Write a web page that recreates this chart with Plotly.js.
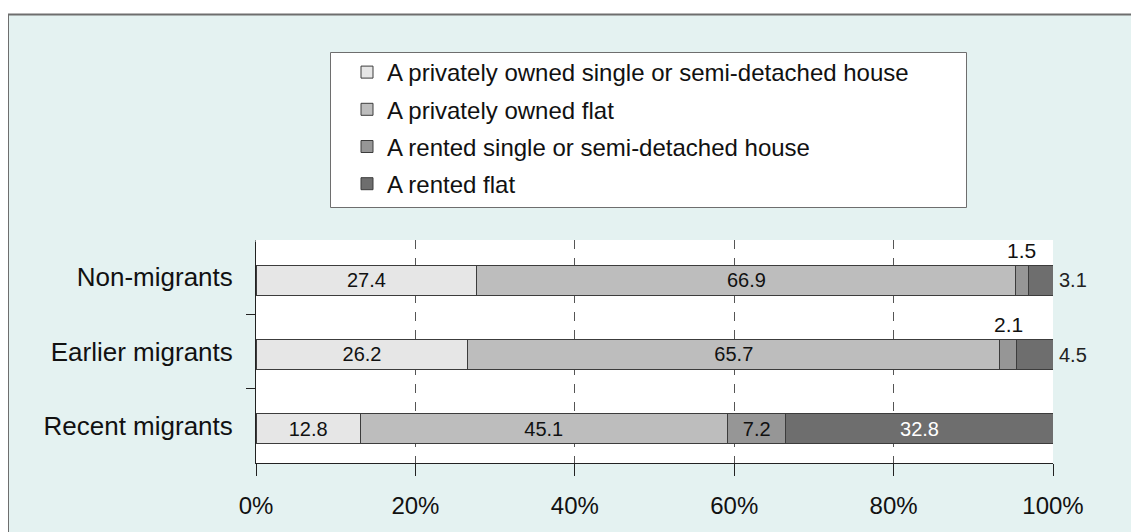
<!DOCTYPE html>
<html>
<head>
<meta charset="utf-8">
<script src="https://cdn.plot.ly/plotly-3.0.1.min.js"></script>
<style>html,body{margin:0;padding:0;background:#fff;}#chart{width:1131px;height:532px;}</style>
</head>
<body>
<div id="chart"></div>
<script>
// ---- data ----
const categories = ["Non-migrants", "Earlier migrants", "Recent migrants"];
const seriesNames = [
  "A privately owned single or semi-detached house",
  "A privately owned flat",
  "A rented single or semi-detached house",
  "A rented flat"
];
const ownedHouse = [27.4, 26.2, 12.8];
const ownedFlat = [66.9, 65.7, 45.1];
const rentedHouse = [1.5, 2.1, 7.2];
const rentedFlat = [3.1, 4.5, 32.8];
const xTickVals = [0, 20, 40, 60, 80, 100];
const xTickText = ["0%", "20%", "40%", "60%", "80%", "100%"];

// ---- style ----
const colors = ["#e6e6e6", "#bdbdbd", "#969696", "#6e6e6e"];
const textColors = ["#111", "#111", "#111", "#fff"];
const W = 1131, H = 532;
const M = {l: 256, r: 78, t: 240, b: 69};
const PW = W - M.l - M.r, PH = H - M.t - M.b;
const px = v => (v - M.l) / PW;          // pixel x -> paper
const py = v => (H - M.b - v) / PH;      // pixel y -> paper
const FONT = "Liberation Sans, Arial, sans-serif";

const seriesVals = [ownedHouse, ownedFlat, rentedHouse, rentedFlat];
const SMALL = 5; // labels of small segments are placed outside

const traces = seriesVals.map((vals, i) => ({
  type: "bar",
  orientation: "h",
  name: seriesNames[i],
  legendgroup: "g" + i,
  y: categories,
  x: vals,
  width: 0.4,
  offset: -0.16,
  text: vals.map(v => v < SMALL ? "" : v.toFixed(1)),
  textposition: "inside",
  insidetextanchor: "middle",
  textfont: {family: FONT, size: 20, color: textColors[i]},
  marker: {color: colors[i], line: {color: "#3c3c3c", width: 1}},
  hoverinfo: "skip"
}));

// annotations for small segments
const annotations = [];
categories.forEach((c, j) => {
  const tot = seriesVals.reduce((s, a) => s + a[j], 0);
  if (rentedHouse[j] < SMALL) {
    const start = (ownedHouse[j] + ownedFlat[j]) / tot * 100;
    const mid = start + rentedHouse[j] / tot * 50;
    annotations.push({x: mid, y: c, xref: "x", yref: "y", text: rentedHouse[j].toFixed(1),
      showarrow: false, xanchor: "center", yanchor: "middle", yshift: 27,
      font: {family: FONT, size: 21, color: "#111"}});
  }
  if (rentedFlat[j] < SMALL) {
    annotations.push({x: 100, y: c, xref: "x", yref: "y", text: rentedFlat[j].toFixed(1),
      showarrow: false, xanchor: "left", yanchor: "middle", xshift: 4, yshift: -3,
      font: {family: FONT, size: 20, color: "#222"}});
  }
});

const shapes = [
  {type: "rect", xref: "paper", yref: "paper", x0: px(-5), x1: px(W + 5), y0: py(14), y1: py(-5),
   fillcolor: "#ffffff", line: {width: 0}, layer: "below"},
  {type: "rect", xref: "paper", yref: "paper", x0: px(-5), x1: px(8), y0: py(H + 5), y1: py(-5),
   fillcolor: "#ffffff", line: {width: 0}, layer: "below"},
  {type: "line", xref: "paper", yref: "paper", x0: px(8), x1: px(W + 5), y0: py(14.5), y1: py(14.5),
   line: {color: "#6e6e6e", width: 2}, layer: "below"},
  {type: "line", xref: "paper", yref: "paper", x0: px(8.5), x1: px(8.5), y0: py(14.5), y1: py(H + 5),
   line: {color: "#6e6e6e", width: 1}, layer: "below"},
  {type: "rect", xref: "paper", yref: "paper", x0: px(330.5), x1: px(966.5), y0: py(207.5), y1: py(52.5),
   fillcolor: "#ffffff", line: {color: "#6e6e6e", width: 1}, layer: "below"},
  // hide the boundary tick at the top of the category axis
  {type: "rect", xref: "paper", yref: "paper", x0: px(244), x1: px(255.5), y0: py(242), y1: py(237),
   fillcolor: "#e4f2f1", line: {width: 0}, layer: "above"}
];

const layout = {
  width: W, height: H,
  margin: M,
  paper_bgcolor: "#e4f2f1",
  plot_bgcolor: "#ffffff",
  barmode: "stack",
  barnorm: "percent",
  showlegend: true,
  legend: {
    x: px(347), y: py(50), xanchor: "left", yanchor: "top",
    xref: "paper", yref: "paper",
    traceorder: "grouped", tracegroupgap: 3,
    bgcolor: "rgba(0,0,0,0)", borderwidth: 0,
    font: {family: FONT, size: 24, color: "#111"}
  },
  xaxis: {
    range: [0, 100], tickvals: xTickVals, ticktext: xTickText,
    showgrid: true, griddash: "dash", gridcolor: "#555", gridwidth: 1,
    zeroline: false, showline: true, linecolor: "#222", linewidth: 1,
    ticks: "outside", ticklen: 12, tickcolor: "#222",
    ticklabelstandoff: 9,
    tickfont: {family: FONT, size: 24, color: "#111"}, fixedrange: true
  },
  yaxis: {
    type: "category", autorange: "reversed",
    showgrid: false, zeroline: false, showline: true, linecolor: "#222", linewidth: 1,
    ticks: "outside", tickson: "boundaries", ticklen: 9, tickcolor: "#222",
    ticklabelstandoff: 17,
    tickfont: {family: FONT, size: 26, color: "#111"}, fixedrange: true
  },
  shapes: shapes,
  annotations: annotations
};

Plotly.newPlot("chart", traces, layout, {displayModeBar: false, staticPlot: true});
</script>
</body>
</html>
